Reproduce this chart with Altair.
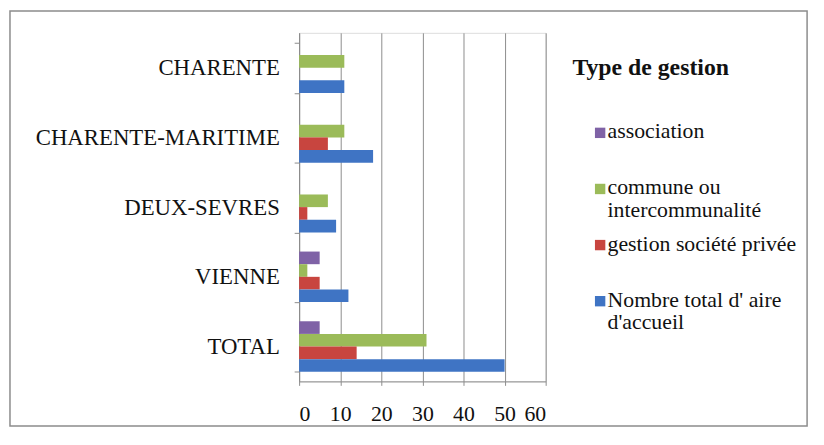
import json
import altair as alt
import pandas as pd

# ---- data ----
categories = ["CHARENTE", "CHARENTE-MARITIME", "DEUX-SEVRES", "VIENNE", "TOTAL"]
series = [
    "association",
    "commune ou intercommunalité",
    "gestion société privée",
    "Nombre total d' aire d'accueil",
]
# legend label lines, as wrapped in the reference
legend_lines = [
    ["association"],
    ["commune ou", "intercommunalité"],
    ["gestion société privée"],
    ["Nombre total d' aire", "d'accueil"],
]
association = [None, None, None, 5, 5]
commune = [11, 11, 7, 2, 31]
gestion_privee = [None, 7, 2, 5, 14]
nombre_total = [11, 18, 9, 12, 50]
colors = ["#7f62a6", "#9bbb59", "#c8453f", "#3f74c4"]
x_ticks = [0, 10, 20, 30, 40, 50, 60]

rows = []
for s, vals in zip(series, [association, commune, gestion_privee, nombre_total]):
    for c, v in zip(categories, vals):
        if v is not None:
            rows.append({"departement": c, "type": s, "valeur": v})
df = pd.DataFrame(rows)
legend_df = pd.DataFrame({"type": series})

# label expression: series name -> its wrapped lines
label_expr = "datum.value"
for s, lines in reversed(list(zip(series, legend_lines))):
    label_expr = f"datum.value == {json.dumps(s, ensure_ascii=False)} ? {json.dumps(lines, ensure_ascii=False)} : ({label_expr})"

FONT = "Liberation Serif"
GRID = "#8c8c8c"
color_scale = alt.Scale(domain=series, range=colors)

bars = alt.Chart(df).mark_bar().encode(
    x=alt.X(
        "valeur:Q",
        scale=alt.Scale(domain=[0, 60]),
        axis=alt.Axis(
            values=x_ticks, title=None, grid=True, gridColor=GRID, gridOpacity=1,
            domainColor=GRID, tickColor=GRID, tickSize=4, labelPadding=18,
            labelFont=FONT, labelFontSize=22, labelColor="#111111",
        ),
    ),
    y=alt.Y(
        "departement:N",
        sort=categories,
        scale=alt.Scale(domain=categories, paddingInner=0.275, paddingOuter=0.1375),
        axis=alt.Axis(
            title=None, tickBand="extent", ticks=True, tickSize=5, labelPadding=15,
            domainColor=GRID, tickColor=GRID, labelFont=FONT, labelFontSize=23,
            labelColor="#111111", labelLimit=400,
        ),
    ),
    yOffset=alt.YOffset(
        "type:N", sort=series,
        scale=alt.Scale(domain=series, paddingInner=0, paddingOuter=0),
    ),
    color=alt.Color("type:N", scale=color_scale, legend=None),
)

# custom legend: coloured squares, labels drawn by a right-hand axis
leg_symbols = alt.Chart(legend_df).mark_square(size=110, opacity=1).encode(
    y=alt.Y(
        "type:N", sort=series,
        scale=alt.Scale(type="point", domain=series, range=[101, 271], padding=0),
        axis=alt.Axis(
            orient="right", offset=62, title=None, domain=False, ticks=False,
            tickSize=0, grid=False, labelPadding=0, labelAlign="left",
            labelBaseline="top", labelOffset=-12, labelLineHeight=23,
            labelFont=FONT, labelFontSize=22, labelColor="#111111",
            labelLimit=400, labelOverlap=False, labelBound=False,
            labelExpr=label_expr,
        ),
    ),
    x=alt.value(304),
    color=alt.Color("type:N", scale=color_scale, legend=None),
)

border = alt.Chart(alt.Data(values=[{"b": 1}])).mark_rect(
    fill="transparent", stroke="#8c8c8c", strokeWidth=1.5
).encode(
    x=alt.value(-292), x2=alt.value(513), y=alt.value(-22), y2=alt.value(397)
)

chart = alt.layer(border, bars, leg_symbols).resolve_scale(
    y="independent"
).properties(
    width=249,
    height=352,
    autosize=alt.AutoSizeParams(type="none"),
    padding={"left": 294, "top": 23, "right": 273, "bottom": 47},
    title=alt.TitleParams(
        "Type de gestion", anchor="start", frame="group", font=FONT,
        fontSize=24, fontWeight="bold", color="#111111", dx=276, dy=70,
        offset=0, baseline="top",
    ),
).configure_view(strokeWidth=0).configure(background="white")

chart.save("out.html", embed_options={"renderer": "svg", "actions": False})
